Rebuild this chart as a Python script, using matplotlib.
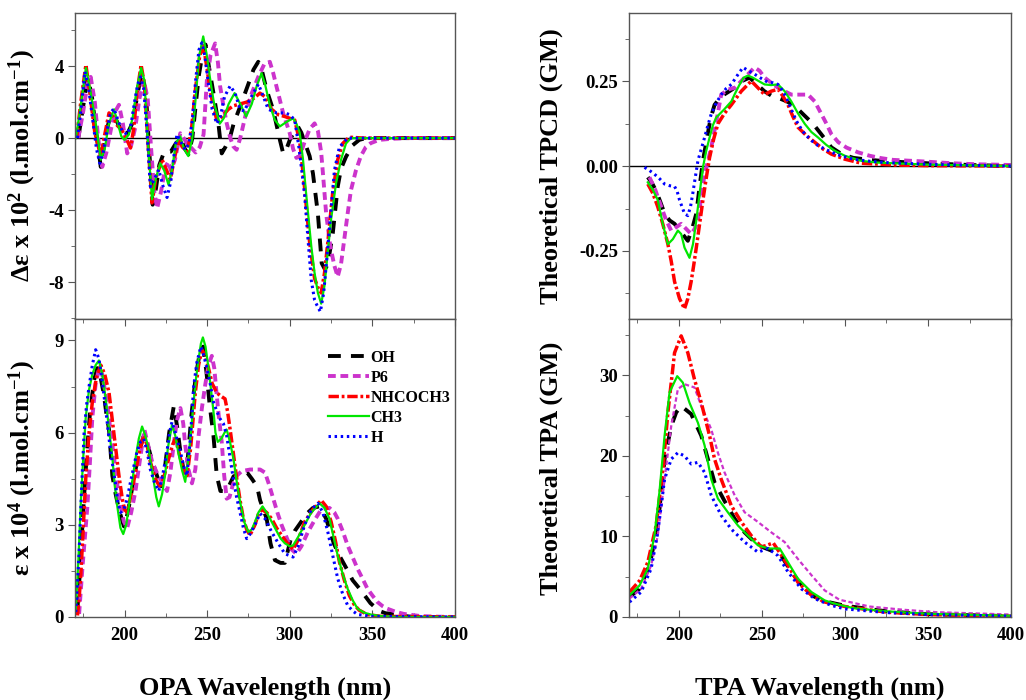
import matplotlib
matplotlib.use('Agg')
import matplotlib.pyplot as plt
from matplotlib.ticker import MultipleLocator, FormatStrFormatter

plt.rcParams['font.family'] = 'Liberation Serif'
plt.rcParams['font.weight'] = 'bold'
plt.rcParams['axes.unicode_minus'] = False
plt.rcParams['mathtext.fontset'] = 'custom'
plt.rcParams['mathtext.rm'] = 'Liberation Serif:bold'
plt.rcParams['mathtext.it'] = 'Liberation Serif:bold:italic'
plt.rcParams['mathtext.bf'] = 'Liberation Serif:bold'

labels = ['OH', 'P6', 'NHCOCH3', 'CH3', 'H']

# ---- OPA circular dichroism (delta epsilon x 10^2) ----
cd_oh_x = [172, 174.5, 177.5, 180, 183, 185.6, 188.6, 191, 193.5, 196, 199, 202, 204.6, 207, 209, 211, 213, 215, 217,
           219, 221, 224, 228, 231, 234, 236.5, 238.7, 241, 243, 245, 247, 249, 251, 253.8, 256.8, 258.8, 261, 263.9,
           266, 269.9, 274.9, 278, 280.9, 283, 286, 290, 294, 296, 298, 300, 303, 305, 307, 310, 312, 314, 317,
           319.3, 321.3, 323, 326, 329, 331, 334, 338, 342, 346, 400]
cd_oh_y = [0, 1.5, 3.3, 2.5, 0.2, -1.6, 0.2, 1.1, 1.3, 0.8, 0.2, 0.3, 0.8, 2.0, 3.0, 3.5, 2.4, -0.8, -3.7,
           -2.8, -1.5, -0.75, -0.75, -0.3, 0, -0.6, -0.9, 0, 1.8, 3.5, 4.6, 5.2, 4.0, 2.5, 0.8, -0.85, -0.5, 0.07,
           0.8, 1.74, 3.0, 3.8, 4.24, 3.8, 2.67, 1.55, -0.1, -0.85, -0.6, -0.1, 0.4, 0.63, 0.3, -0.48, -1.0, -1.96, -4.2,
           -6.95, -7.3, -7.0, -5.3, -2.7, -1.7, -1.04, -0.4, -0.1, 0, 0]
cd_p6_x = [172, 175, 177.5, 179.5, 182, 184, 186.5, 189, 192, 194.5, 196.6, 199, 201.6, 204, 206.5, 209, 211.6, 214,
           216, 218, 219.7, 222, 224.7, 226.5, 228, 230.5, 233.7, 235.8, 237.8, 240, 243, 245.5, 247.8, 249.8, 252,
           254.8, 256.5, 257.8, 260, 261.8, 264, 265.8, 267.8, 270, 273.9, 277, 280.9, 284.5, 287.9, 290, 292, 296,
           300, 302, 304, 306, 309, 312, 315, 317, 319, 320, 322, 324.5, 327, 329, 331, 333, 335, 337, 340, 343, 346,
           349, 354, 360, 370, 400]
cd_p6_y = [0, 1.5, 3.0, 3.4, 2.0, 0.0, -1.6, -0.8, 0.6, 1.5, 1.85, 0.8, -0.85, -0.4, 0.6, 2.2, 3.2, 2.2,
           -0.5, -3.0, -3.9, -3.0, -1.6, -1.3, -1.8, -1.2, 0.27, 0, -0.3, -0.5, -0.8, -0.5, 0.2, 3.2, 4.6,
           5.26, 4.2, 2.9, 1.7, 0.83, 0, -0.46, -0.65, 0.0, 1.55, 2.5, 3.4, 4.1, 4.24, 3.6, 2.85, 1.38,
           0.26, -0.6, -1.1, -1.0, -0.2, 0.5, 0.82, 0.4, -0.8, -1.9, -4.2, -6.0, -7.1, -7.7, -7.0, -5.6, -4.2, -2.9, -1.8, -1.0, -0.5,
           -0.28, -0.1, -0.05, 0, 0]
cd_nh_x = [171, 173.5, 176.6, 179, 182, 185.6, 188, 190.6, 193, 195.6, 198, 201, 203.6, 205.5, 207.5, 210, 212, 214,
           216.6, 219, 222.7, 225, 227.7, 230, 232.7, 235, 238, 240.5, 243, 245.5, 247.8, 250, 252, 255.8, 259, 262.8,
           266, 270, 273.9, 278, 281.9, 285, 289, 293, 297, 303, 306, 309, 312, 315, 317, 319, 321, 323, 326, 329,
           332, 336, 345, 400]
cd_nh_y = [0, 2, 4.07, 2.5, 0.3, -1.0, 0.2, 1.4, 1.2, 0.7, 0.5, 0, -0.55, 0.5, 2.5, 4.07, 3.0, 0,
           -3.6, -2.2, -1.2, -1.7, -2.3, -1.2, -0.1, -0.5, -0.75, 0.5, 2.8, 4.6, 5.1, 3.8, 2.5, 1.0, 1.2, 1.6,
           1.8, 1.9, 2.0, 2.2, 2.5, 2.3, 1.6, 1.3, 1.2, 1.0, -0.2, -2.8, -5.8, -7.8, -8.3, -8.6, -7.5, -5.8, -3.0, -1.2,
           -0.3, 0.05, 0, 0]
cd_ch3_x = [170.5, 173, 176.6, 179, 182.6, 185.6, 188, 190.5, 193.6, 196, 198, 200, 202.6, 205, 207.5, 210, 212, 214,
            216.6, 219, 221.6, 224, 226.6, 229, 231, 233.6, 236, 238.6, 241, 243, 245, 247.6, 249.6, 251.6, 254,
            257.6, 260, 263, 266.6, 270, 273.6, 277, 280, 282.9, 285, 288, 291, 294, 298, 302, 304, 306, 308, 310,
            313, 315, 317, 319, 321, 323, 325, 328, 331, 334, 337, 345, 400]
cd_ch3_y = [0, 1.5, 3.9, 2.8, 0.8, -1.2, -0.6, 0.8, 1.6, 0.8, 0.1, -0.1, 0.2, 1.2, 2.8, 3.9, 3.2, 0,
            -3.4, -2.2, -1.4, -1.8, -2.6, -1.6, -0.3, 0.1, -0.6, -1.0, 0, 2.2, 4.5, 5.65, 4.7, 3.4, 2.0,
            0.8, 1.1, 1.9, 2.5, 1.9, 1.2, 1.9, 2.9, 3.6, 3.0, 1.8, 1.0, 0.65, 0.9, 1.1, 0.8, 0.3, -1.2, -3.2,
            -6.0, -7.5, -8.6, -9.2, -8.2, -6.3, -4.5, -2.5, -1.2, -0.3, 0, 0, 0]
cd_h_x = [171.5, 173.5, 176, 178.5, 181, 183, 185, 187, 189.5, 191.5, 193.6, 196, 198.5, 201.6, 204, 206, 208, 209.6,
          211.5, 213.5, 215.6, 218, 220.7, 223, 225.7, 228, 230, 231.7, 234, 236.7, 239, 241, 243, 245, 246.8, 248.5,
          250.8, 253, 255.8, 258, 260.5, 263.9, 266.9, 269.9, 272.5, 275, 277.9, 281, 284, 287, 292, 297, 300, 303,
          305.5, 307.5, 309, 311, 313, 315, 316.5, 318.5, 320.5, 322, 324, 327, 330, 335, 345, 400]
cd_h_y = [0, 1.5, 3.7, 2.6, 0.8, -0.6, -1.4, -0.8, 0.5, 1.4, 1.65, 1.0, 0.4, 0.2, 0.8, 2.0, 3.0, 3.4,
          2.8, 0.5, -2.7, -2.3, -1.75, -2.6, -3.3, -2.4, -0.9, 0.2, -0.2, -0.65, -0.3, 1.0, 3.2, 4.9, 5.3, 4.6,
          3.0, 1.6, 0.8, 1.2, 2.3, 2.9, 2.5, 1.6, 1.5, 2.0, 2.5, 3.0, 2.3, 1.6, 1.4, 1.4, 1.3, 1.0,
          -0.5, -2.0, -3.2, -5.6, -7.9, -9.0, -9.3, -9.65, -8.6, -7.1, -5.0, -1.8, -0.5, 0, 0, 0]

# ---- OPA absorption (epsilon x 10^4) ----
ab_oh_x = [171.5, 173, 175, 177, 179, 181.5, 183.5, 185.5, 187.6, 189, 190.6, 192.6, 194.6, 196.6, 199.6, 202, 204.6,
           207, 209.5, 211.5, 213.7, 216, 219, 222, 224.5, 227, 229.8, 231.8, 233.9, 236, 238, 240.5, 243, 245.5,
           247.5, 249.5, 251.5, 253.8, 255.8, 258, 261, 263.5, 266, 270, 274.2, 277, 280.2, 282, 284, 286, 288.3,
           291, 294.4, 297, 300.4, 303, 306.4, 310, 314, 318, 322, 326.6, 330, 334.7, 338, 342.7, 348.8, 354, 358,
           363, 368, 375, 400]
ab_oh_y = [0.27, 1.5, 3.5, 5.2, 6.6, 7.7, 8.1, 7.8, 7.2, 6.6, 6.1, 4.6, 4.0, 3.5, 2.95, 3.4, 4.2,
           4.9, 5.5, 5.9, 5.67, 5.2, 4.7, 4.2, 4.9, 6.0, 6.86, 6.2, 5.34, 4.7, 5.0, 6.6, 7.8, 8.6,
           8.8, 8.0, 6.9, 5.9, 4.6, 4.1, 4.1, 4.3, 4.58, 4.65, 4.7, 4.5, 4.25, 3.8, 3.5, 3.2, 2.4,
           1.85, 1.76, 1.76, 2.5, 2.8, 3.06, 3.35, 3.55, 3.6, 3.2, 2.4, 2.0, 1.54, 1.2, 0.89, 0.45, 0.2, 0.12,
           0.1, 0.04, 0.0, 0]
ab_p6_x = [172.5, 174.5, 176, 177.5, 179, 180.5, 182.5, 184.6, 186.5, 189.6, 191.6, 193.6, 195.6, 197.6, 199.6, 201.6,
           204, 206.6, 209, 212, 214.2, 216.7, 219.5, 222.5, 225.7, 227.7, 229.7, 231.7, 233.8, 235.5, 236.7, 238.7,
           240.8, 242.8, 244.8, 246.8, 248.8, 250.8, 252.8, 254.3, 255.8, 257.3, 258.8, 260.3, 261.8, 263.5, 265.5,
           267.9, 271, 276, 279, 282, 285, 287.5, 290, 292.5, 295, 298, 301, 304, 307, 311, 315, 319, 324, 327,
           329, 332, 335, 338, 341, 344, 347, 350, 353, 356, 359, 364, 369, 379, 390, 400]
ab_p6_y = [0.1, 1.6, 2.6, 3.6, 5.0, 6.5, 7.6, 8.1, 7.9, 6.9, 6.0, 5.2, 4.3, 3.6, 3.1, 2.9,
           3.4, 4.1, 5.0, 6.1, 5.6, 5.05, 4.7, 4.4, 4.1, 4.7, 5.6, 6.4, 6.8, 6.3, 5.6, 4.8,
           4.35, 4.8, 5.9, 6.8, 7.55, 8.2, 8.5, 8.1, 7.2, 6.4, 5.7, 4.6, 3.85, 3.9, 4.3,
           4.6, 4.75, 4.8, 4.8, 4.8, 4.7, 4.3, 3.85, 3.4, 3.0, 2.6, 2.2, 2.06, 2.3, 2.77, 3.15, 3.5, 3.55, 3.4,
           3.2, 2.8, 2.33, 1.95, 1.57, 1.25, 0.92, 0.7, 0.49, 0.36, 0.27, 0.17, 0.1, 0.03, 0.01, 0]
ab_nh_x = [171.5, 172.5, 173.5, 175, 176.5, 178.5, 180.5, 183, 185.6, 188, 190.6, 192.6, 194.6, 196.6, 198.6, 200,
           201.6, 204, 206.6, 209, 211.6, 213.6, 215.6, 218.6, 221.7, 224, 226.7, 229, 230.7, 232.7, 235, 237.8,
           240, 242.8, 244.8, 246.8, 248.8, 250.8, 253, 255.8, 258, 260.8, 262.3, 263.9, 265.9, 267.9, 269.9, 271.9,
           273.9, 275.9, 278.9, 281, 283, 286, 289, 292, 295, 298.5, 302, 305, 309, 314, 319, 322, 325, 327.5,
           330, 333, 336, 339, 342, 347, 355, 400]
ab_nh_y = [0.05, 0.6, 1.36, 2.9, 4.5, 6.0, 7.0, 7.8, 8.2, 7.9, 7.3, 6.4, 5.5, 4.6, 3.85, 3.5,
           3.4, 4.0, 4.7, 5.4, 5.9, 5.6, 5.05, 4.5, 4.2, 4.6, 5.15, 5.6, 5.8, 5.4, 4.9, 4.6,
           5.5, 7.3, 8.2, 8.7, 8.5, 8.1, 7.6, 7.3, 7.2, 7.1, 6.7, 6.1, 5.3, 4.5, 3.8, 3.2,
           2.85, 2.66, 3.0, 3.35, 3.5, 3.4, 3.2, 2.9, 2.66, 2.4, 2.2, 2.5, 3.1, 3.5, 3.8, 3.6, 3.1, 2.5,
           1.8, 1.2, 0.7, 0.4, 0.22, 0.08, 0.02, 0]
ab_ch3_x = [170.5, 172, 173.5, 175, 176.5, 178.5, 180.5, 182.5, 184.5, 186.5, 188.6, 190.6, 192.6, 194, 195.6, 197.5,
            199.2, 201, 202.6, 204.6, 206.6, 208.6, 210.6, 212.6, 214.7, 216.2, 217.7, 219.2, 220.7, 222.7, 224.7,
            226.2, 228.7, 230.7, 232.7, 234.7, 236.7, 238.7, 240.3, 241.8, 243.3, 244.8, 246.2, 247.4, 249, 250.8,
            252.3, 253.8, 255, 256.4, 258.5, 260.5, 261.8, 263.8, 265.9, 267.9, 269.9, 272.4, 274.9, 277, 279, 281,
            283.5, 286, 289, 292, 294.5, 297, 300, 302, 305, 309, 313, 318, 321, 324, 326.5, 329, 332, 335, 338,
            341, 345, 349, 355, 365, 400]
ab_ch3_y = [0.27, 1.8, 3.7, 5.2, 6.5, 7.4, 7.9, 8.2, 8.35, 7.9, 7.1, 6.1, 5.2, 4.3, 3.6, 2.9,
            2.7, 3.0, 3.6, 4.4, 5.15, 5.8, 6.2, 5.9, 5.4, 4.9, 4.4, 3.9, 3.6, 4.0, 4.7,
            5.5, 6.25, 5.9, 5.3, 4.8, 4.4, 5.2, 6.1, 7.0, 7.8, 8.4, 8.9, 9.1, 8.8, 8.1,
            7.4, 6.7, 6.0, 5.7, 5.8, 6.0, 6.1, 5.7, 5.15, 4.4, 3.75, 3.1, 2.77, 2.85, 3.1, 3.4,
            3.6, 3.4, 3.1, 2.8, 2.55, 2.4, 2.3, 2.33, 2.6, 3.0, 3.4, 3.7, 3.55, 3.2, 2.6, 2.0, 1.4, 0.92, 0.55,
            0.27, 0.14, 0.08, 0.03, 0, 0]
ab_h_x = [170.5, 172.5, 174, 175.5, 177, 178.5, 180.5, 182.5, 184.5, 186.5, 188.5, 190.6, 192.6, 194.6, 196, 197.6,
          199.6, 201.6, 203.6, 205.6, 207.6, 209.6, 211.6, 213.6, 215.6, 218, 220.7, 223, 225.7, 227.2, 228.7,
          230.7, 233.7, 235.8, 237.8, 239.8, 241.8, 243.8, 246.2, 248, 249.8, 251.8, 253.8, 255.8, 257.8, 259.8,
          261.8, 263.8, 265.8, 267.8, 269.9, 271.9, 273.9, 276, 278.9, 282, 285, 289, 293, 297, 302, 305, 309,
          313, 317, 320, 323, 326, 329, 332, 335, 338, 341, 350, 400]
ab_h_y = [0.16, 2.1, 4.2, 6.0, 6.9, 7.5, 8.2, 8.7, 8.4, 7.65, 6.8, 5.8, 5.0, 4.3, 3.7, 3.4,
          3.5, 3.85, 4.4, 4.9, 5.4, 5.7, 5.8, 5.4, 4.8, 4.4, 4.1, 4.6, 5.4, 6.0, 6.35,
          6.0, 5.4, 4.9, 4.6, 5.8, 7.5, 8.3, 8.8, 8.5, 8.1, 7.6, 7.0, 6.7, 6.45, 6.3,
          5.9, 5.2, 4.5, 3.9, 3.4, 2.9, 2.55, 2.7, 3.0, 3.37, 3.2, 2.77, 2.4, 2.06, 1.95, 2.3, 3.0,
          3.5, 3.7, 3.4, 2.77, 2.0, 1.25, 0.75, 0.38, 0.2, 0.08, 0.02, 0]

# ---- TPCD (GM) ----
tpcd_oh_x = [181.3, 183.8, 186.3, 188.8, 191.4, 194.4, 197.4, 201.4, 205.4, 208, 210.5, 212.5, 214.5, 216.5, 218.5,
             220, 221.5, 225.5, 229.5, 233.5, 238, 242.6, 247, 251.5, 255.7, 260, 265, 269.7, 275.3, 280.8, 286.3,
             291.8, 298, 305, 315, 325, 337, 350, 375, 400]
tpcd_oh_y = [-0.033, -0.05, -0.073, -0.105, -0.14, -0.16, -0.17, -0.195, -0.22, -0.185, -0.14, -0.06, 0.016, 0.07,
             0.124, 0.155, 0.18, 0.205, 0.217, 0.23, 0.25, 0.26, 0.24, 0.22, 0.207, 0.2, 0.19, 0.177, 0.15, 0.124,
             0.09, 0.055, 0.035, 0.024, 0.018, 0.014, 0.011, 0.008, 0.003, 0]
tpcd_p6_x = [182.3, 185.8, 189.4, 192.4, 195.4, 198.4, 201.4, 204.4, 207.4, 209.5, 211.5, 213.5, 215.5, 217.5, 219.5,
             222.5, 225.5, 229.5, 233.6, 236.6, 239.6, 242.6, 245.6, 248.6, 251.6, 255.6, 259.7, 263.7, 267.7, 272.7,
             277.8, 281.8, 285.8, 288.8, 291.8, 296, 301, 308, 315, 322, 329, 337, 345, 355, 365, 380, 400]
tpcd_p6_y = [-0.033, -0.07, -0.12, -0.16, -0.19, -0.18, -0.17, -0.185, -0.2, -0.185, -0.16, -0.09, -0.024, 0.015,
             0.055, 0.13, 0.21, 0.225, 0.23, 0.245, 0.26, 0.275, 0.29, 0.28, 0.26, 0.245, 0.23, 0.22, 0.21, 0.21,
             0.21, 0.19, 0.153, 0.125, 0.094, 0.07, 0.054, 0.04, 0.03, 0.023, 0.018, 0.016, 0.014, 0.011, 0.008,
             0.005, 0.003]
tpcd_nh_x = [181.3, 184.3, 187.3, 190.3, 193.4, 195.4, 197.4, 200.4, 203.4, 205.4, 207.4, 209, 210.5, 212.5, 214.5,
             216.5, 218.5, 221, 223.5, 227.5, 231.6, 234.6, 237.6, 240.6, 243.6, 247.6, 251.6, 255.6, 259.7, 262.7,
             265.7, 268.7, 271.7, 276.7, 281.8, 286.8, 291.8, 300, 310, 330, 350, 400]
tpcd_nh_y = [-0.053, -0.08, -0.12, -0.17, -0.23, -0.28, -0.34, -0.39, -0.42, -0.39, -0.34, -0.29, -0.24, -0.17,
             -0.10, -0.035, 0.025, 0.08, 0.124, 0.155, 0.18, 0.2, 0.22, 0.235, 0.25, 0.23, 0.21, 0.22, 0.226, 0.205,
             0.18, 0.145, 0.114, 0.09, 0.07, 0.05, 0.035, 0.02, 0.008, 0.003, 0.001, 0]
tpcd_ch3_x = [181.3, 184.3, 187.3, 190.3, 193.4, 196.4, 199.4, 201.4, 203.4, 206.4, 208.5, 210.5, 212.5, 214.5, 216.5,
              218.5, 220.5, 222.5, 227, 231.6, 234, 236.6, 239, 241.6, 244.5, 248, 251.6, 255.5, 259.7, 263.7, 267.7,
              271.7, 275.8, 279.8, 283.8, 288.8, 293.8, 300, 310, 320, 330, 350, 375, 400]
tpcd_ch3_y = [-0.048, -0.07, -0.10, -0.17, -0.23, -0.215, -0.19, -0.2, -0.24, -0.27, -0.23, -0.16, -0.08, -0.004,
              0.045, 0.084, 0.12, 0.143, 0.165, 0.19, 0.215, 0.24, 0.26, 0.266, 0.26, 0.25, 0.24, 0.238, 0.24, 0.22,
              0.19, 0.155, 0.124, 0.1, 0.084, 0.062, 0.045, 0.03, 0.015, 0.01, 0.008, 0.004, 0.002, 0]
tpcd_h_x = [179.3, 182, 185.3, 188.5, 191.4, 194.5, 197.4, 199, 200.4, 203.4, 205.4, 207, 208.4, 210, 211.5, 213.5,
            215.5, 217.5, 219.5, 222.5, 225.5, 228.5, 231.6, 235, 238.6, 242, 245.6, 249.5, 253.7, 256.5, 259.7,
            262.7, 265.7, 268.7, 271.7, 275.7, 279.8, 283.8, 287.8, 295, 305, 315, 325, 350, 375, 400]
tpcd_h_y = [-0.004, -0.012, -0.024, -0.038, -0.053, -0.058, -0.06, -0.075, -0.10, -0.14, -0.146, -0.12, -0.08, -0.03,
            0.016, 0.05, 0.084, 0.12, 0.153, 0.185, 0.21, 0.228, 0.24, 0.265, 0.29, 0.28, 0.27, 0.258, 0.246, 0.245,
            0.24, 0.22, 0.19, 0.155, 0.124, 0.095, 0.075, 0.06, 0.05, 0.034, 0.02, 0.014, 0.01, 0.005, 0.002, 0]

# ---- TPA (GM) ----
tpa_oh_x = [170.3, 176.3, 182.3, 187.3, 191.4, 195.4, 198.4, 201.4, 207.4, 213.5, 217.5, 221.5, 227.5, 233.6, 239.6,
            247.6, 255.7, 261.7, 267.7, 275.8, 281.8, 289.8, 300, 325, 350, 400]
tpa_oh_y = [2.5, 3.5, 6.4, 11.35, 19.6, 23.7, 25.4, 26.2, 25.2, 22.5, 19.6, 16.7, 14.4, 12.2, 10.5,
            8.9, 8.25, 7.6, 5.6, 3.5, 2.5, 1.86, 1.4, 0.7, 0.35, 0.1]
tpa_p6_x = [170.3, 177.3, 183.3, 187.3, 191.4, 195.4, 199.4, 203.4, 209.4, 213.5, 219.5, 223.5, 227.5, 233.6, 239.6,
            247.6, 255.7, 263.7, 271.7, 279.8, 287.8, 296.7, 314.8, 335, 355, 400]
tpa_p6_y = [2.3, 3.5, 6.4, 10.1, 17.1, 23.7, 28.3, 28.9, 28.5, 26.2, 23.3, 20.4, 17.95, 15.1, 13.0,
            11.8, 10.5, 9.3, 7.2, 5.2, 3.3, 2.14, 1.3, 0.9, 0.6, 0.3]
tpa_nh_x = [170.3, 176.3, 181.3, 186.3, 190.4, 193.4, 197.4, 201.4, 205.4, 209.4, 213.5, 218.5, 221.5, 225.5, 231.6,
            237.6, 243.6, 249.6, 253, 256.8, 260.7, 265.7, 271.7, 279.8, 287.8, 300, 325, 350, 400]
tpa_nh_y = [3.1, 4.5, 6.8, 11.35, 18.4, 25.4, 32.8, 34.9, 32.8, 29.5, 26.6, 22.5, 19.6, 17.1, 13.8,
            11.8, 10.1, 8.7, 8.9, 9.2, 8.0, 6.4, 4.3, 2.7, 1.86, 1.3, 0.6, 0.3, 0.1]
tpa_ch3_x = [170.3, 176.3, 181.3, 185.3, 188.3, 191.4, 194.4, 199, 202.4, 206.4, 211.5, 215.5, 219.5, 223.5, 229.5,
             235.6, 241.6, 247.6, 253.7, 260.7, 265.7, 271.7, 279.8, 287.8, 293.8, 305, 325, 350, 400]
tpa_ch3_y = [2.7, 3.9, 6.0, 10.1, 15.5, 22.5, 27.9, 29.9, 29.1, 26.6, 24.1, 21.3, 17.1, 14.7, 13.0,
             11.35, 10.1, 8.9, 8.5, 8.5, 6.8, 4.75, 3.1, 2.06, 1.65, 1.1, 0.7, 0.4, 0.15]
tpa_h_x = [170.3, 177.3, 183.3, 187.3, 191.4, 195.4, 199.4, 203.4, 207.4, 211.5, 215.5, 219.5, 225.5, 231.6, 239.6,
           247.6, 253.7, 259.7, 265.7, 273.7, 281.8, 291.8, 300, 325, 350, 400]
tpa_h_y = [1.86, 3.1, 6.0, 10.5, 17.1, 19.6, 20.4, 20.0, 19.0, 19.2, 17.95, 15.1, 12.6, 10.9, 9.3,
           8.05, 8.5, 7.6, 5.6, 3.5, 2.27, 1.44, 1.0, 0.55, 0.3, 0.1]

colors = ['black', '#cc33cc', '#ff0000', '#00e600', '#0000ff']
styles = [dict(lw=2.8, dashes=(3.3, 2.6)),
          dict(lw=2.8, dashes=(2.0, 1.2)),
          dict(lw=2.5, dashes=(3.0, 0.8, 0.8, 0.8)),
          dict(lw=1.6, linestyle='-'),
          dict(lw=2.2, dashes=(0.8, 1.2))]

fig = plt.figure(figsize=(10.26, 7.0), dpi=100)
ax_cd = fig.add_axes([0.0731, 0.5443, 0.3704, 0.4371])
ax_ab = fig.add_axes([0.0731, 0.1186, 0.3704, 0.4257])
ax_tpcd = fig.add_axes([0.6131, 0.5443, 0.3723, 0.4371])
ax_tpa = fig.add_axes([0.6131, 0.1186, 0.3723, 0.4257])


def draw(ax, xs, ys, thin_p6=False):
    for i, (x, y) in enumerate(zip(xs, ys)):
        st = dict(styles[i])
        if thin_p6 and i == 1:
            st['lw'] = 1.6
        ax.plot(x, y, color=colors[i], label=labels[i], **st)


draw(ax_cd, [cd_oh_x, cd_p6_x, cd_nh_x, cd_ch3_x, cd_h_x], [cd_oh_y, cd_p6_y, cd_nh_y, cd_ch3_y, cd_h_y])
draw(ax_ab, [ab_oh_x, ab_p6_x, ab_nh_x, ab_ch3_x, ab_h_x], [ab_oh_y, ab_p6_y, ab_nh_y, ab_ch3_y, ab_h_y])
draw(ax_tpcd, [tpcd_oh_x, tpcd_p6_x, tpcd_nh_x, tpcd_ch3_x, tpcd_h_x],
     [tpcd_oh_y, tpcd_p6_y, tpcd_nh_y, tpcd_ch3_y, tpcd_h_y])
draw(ax_tpa, [tpa_oh_x, tpa_p6_x, tpa_nh_x, tpa_ch3_x, tpa_h_x],
     [tpa_oh_y, tpa_p6_y, tpa_nh_y, tpa_ch3_y, tpa_h_y], thin_p6=True)

for ax in (ax_cd, ax_tpcd):
    ax.axhline(0, color='black', lw=1.0, zorder=0.5)

ax_cd.set_ylim(-10.05, 6.95)
ax_cd.yaxis.set_major_locator(MultipleLocator(4))
ax_cd.yaxis.set_minor_locator(MultipleLocator(2))
ax_ab.set_ylim(0, 9.7)
ax_ab.yaxis.set_major_locator(MultipleLocator(3))
ax_ab.yaxis.set_minor_locator(MultipleLocator(1.5))
ax_tpcd.set_ylim(-0.45, 0.45)
ax_tpcd.yaxis.set_major_locator(MultipleLocator(0.25))
ax_tpcd.yaxis.set_minor_locator(MultipleLocator(0.125))
ax_tpcd.yaxis.set_major_formatter(FormatStrFormatter('%.2f'))
ax_tpa.set_ylim(0, 37)
ax_tpa.yaxis.set_major_locator(MultipleLocator(10))
ax_tpa.yaxis.set_minor_locator(MultipleLocator(5))

for ax in (ax_cd, ax_ab, ax_tpcd, ax_tpa):
    ax.set_xlim(170, 400)
    ax.xaxis.set_major_locator(MultipleLocator(50))
    ax.xaxis.set_minor_locator(MultipleLocator(25))
    for sp in ax.spines.values():
        sp.set_color('#555555')
        sp.set_linewidth(1.0)
    ax.tick_params(axis='y', which='both', direction='out', left=True, right=False,
                   labelsize=13.5, colors='#555555', labelcolor='black', pad=3)
    ax.tick_params(axis='y', which='major', length=5)
    ax.tick_params(axis='y', which='minor', length=3)

for ax in (ax_cd, ax_tpcd):
    ax.tick_params(axis='x', which='both', bottom=False, top=False, labelbottom=False)

for ax in (ax_ab, ax_tpa):
    ax.tick_params(axis='x', which='both', direction='in', top=True, bottom=True,
                   labelsize=13.5, colors='#555555', labelcolor='black', pad=7)
    ax.tick_params(axis='x', which='major', length=5)
    ax.tick_params(axis='x', which='minor', length=3)

ax_cd.set_ylabel('Δε x 10$^{2}$ (l.mol.cm$^{-1}$)', fontsize=19, fontweight='bold')
ax_ab.set_ylabel('ε x 10$^{4}$ (l.mol.cm$^{-1}$)', fontsize=19, fontweight='bold')
ax_tpcd.set_ylabel('Theoretical TPCD (GM)', fontsize=19, fontweight='bold')
ax_tpa.set_ylabel('Theoretical TPA (GM)', fontsize=19, fontweight='bold')
for ax in (ax_cd, ax_ab):
    ax.yaxis.set_label_coords(-0.097, 0.5)
for ax in (ax_tpcd, ax_tpa):
    ax.yaxis.set_label_coords(-0.173, 0.5)

ax_ab.set_xlabel('OPA Wavelength (nm)', fontsize=19, fontweight='bold', labelpad=24)
ax_tpa.set_xlabel('TPA Wavelength (nm)', fontsize=19, fontweight='bold', labelpad=24)

ax_ab.legend(loc='upper left', bbox_to_anchor=(0.635, 0.935), frameon=False, fontsize=11.5,
             handlelength=2.6, handletextpad=0.1, labelspacing=0.25, borderpad=0.2)

fig.savefig('out.png', dpi=100)
